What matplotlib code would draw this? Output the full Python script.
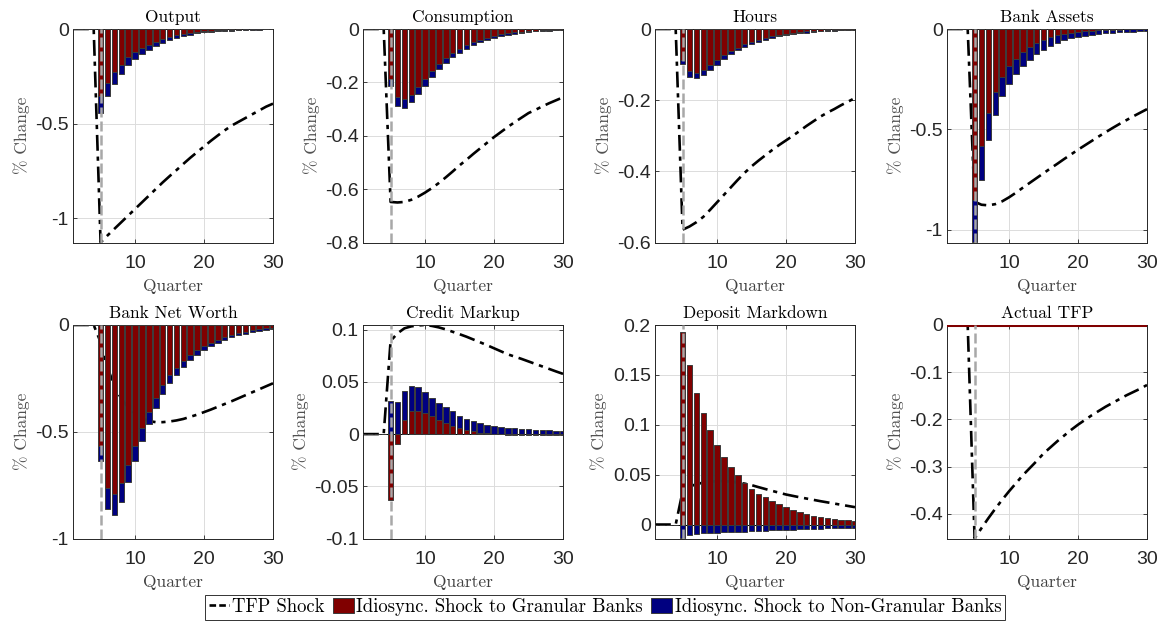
import numpy as np
import matplotlib
matplotlib.use("Agg")
import matplotlib.pyplot as plt
from matplotlib.lines import Line2D
from matplotlib.patches import Patch
from matplotlib.ticker import FormatStrFormatter

plt.rcParams["axes.unicode_minus"] = False

QUARTERS = list(range(1, 31))

TITLES = ["Output", "Consumption", "Hours", "Bank Assets",
          "Bank Net Worth", "Credit Markup", "Deposit Markdown", "Actual TFP"]

# ---- TFP shock responses (dash-dot line) ----
OUTPUT_TFP = [0, 0, 0, 0, -1.127, -1.090, -1.055, -1.020, -0.985, -0.950, -0.915, -0.880, -0.845,
              -0.810, -0.777, -0.745, -0.712, -0.680, -0.650, -0.620, -0.590, -0.562, -0.535,
              -0.510, -0.490, -0.470, -0.450, -0.430, -0.410, -0.394]
CONS_TFP = [0, 0, 0, 0, -0.648, -0.650, -0.648, -0.640, -0.628, -0.613, -0.596, -0.577, -0.556,
            -0.534, -0.511, -0.490, -0.468, -0.447, -0.426, -0.405, -0.386, -0.367, -0.349,
            -0.332, -0.315, -0.303, -0.290, -0.278, -0.267, -0.256]
HOURS_TFP = [0, 0, 0, 0, -0.564, -0.555, -0.543, -0.528, -0.508, -0.487, -0.466, -0.445, -0.424,
             -0.404, -0.386, -0.370, -0.355, -0.340, -0.326, -0.313, -0.300, -0.286, -0.272,
             -0.259, -0.246, -0.235, -0.225, -0.214, -0.204, -0.194]
ASSETS_TFP = [0, 0, 0, 0, -0.860, -0.875, -0.878, -0.872, -0.858, -0.838, -0.815, -0.790, -0.766,
              -0.742, -0.718, -0.694, -0.671, -0.647, -0.624, -0.601, -0.579, -0.557, -0.535,
              -0.514, -0.493, -0.473, -0.454, -0.435, -0.417, -0.399]
NETWORTH_TFP = [0, 0, 0, 0, -0.080, -0.200, -0.285, -0.345, -0.385, -0.415, -0.437, -0.450, -0.455,
                -0.455, -0.452, -0.447, -0.440, -0.430, -0.420, -0.408, -0.396, -0.383, -0.370,
                -0.357, -0.343, -0.329, -0.315, -0.301, -0.287, -0.273]
MARKUP_TFP = [0, 0, 0, 0, 0.0892, 0.0965, 0.1013, 0.1032, 0.1041, 0.1045, 0.1036, 0.1022, 0.1003,
              0.0980, 0.0957, 0.0933, 0.0906, 0.0879, 0.0851, 0.0822, 0.0793, 0.0764, 0.0742,
              0.0720, 0.0696, 0.0672, 0.0648, 0.0624, 0.0600, 0.0577]
MARKDOWN_TFP = [0, 0, 0, 0, 0.0330, 0.0380, 0.0405, 0.0420, 0.0430, 0.0435, 0.0435, 0.0430, 0.0420,
                0.0410, 0.0395, 0.0375, 0.0356, 0.0337, 0.0319, 0.0301, 0.0287, 0.0273, 0.0260,
                0.0247, 0.0234, 0.0222, 0.0210, 0.0198, 0.0186, 0.0174]
TFP_TFP = [0, 0, 0, 0, -0.452, -0.430, -0.409, -0.389, -0.370, -0.352, -0.335, -0.318, -0.303,
           -0.288, -0.272, -0.259, -0.246, -0.234, -0.222, -0.211, -0.201, -0.191, -0.182,
           -0.173, -0.165, -0.157, -0.149, -0.142, -0.135, -0.127]

# ---- Idiosyncratic shock to granular banks (red bars) ----
OUTPUT_GRAN = [0, 0, 0, 0, -0.355, -0.285, -0.228, -0.188, -0.148, -0.123, -0.102, -0.083, -0.069,
               -0.053, -0.042, -0.032, -0.025, -0.019, -0.014, -0.011, -0.008, -0.006, -0.005,
               -0.004, -0.003, -0.002, -0.002, -0.001, -0.001, -0.001]
CONS_GRAN = [0, 0, 0, 0, -0.188, -0.253, -0.263, -0.246, -0.218, -0.188, -0.156, -0.131, -0.109,
             -0.090, -0.075, -0.061, -0.050, -0.040, -0.033, -0.025, -0.020, -0.016, -0.013,
             -0.010, -0.008, -0.006, -0.005, -0.004, -0.003, -0.003]
HOURS_GRAN = [0, 0, 0, 0, -0.086, -0.119, -0.124, -0.115, -0.101, -0.086, -0.073, -0.061, -0.052,
              -0.043, -0.036, -0.030, -0.025, -0.020, -0.017, -0.014, -0.011, -0.009, -0.007,
              -0.006, -0.005, -0.004, -0.003, -0.003, -0.002, -0.002]
ASSETS_GRAN = [0, 0, 0, 0, -0.850, -0.581, -0.419, -0.314, -0.239, -0.186, -0.150, -0.116, -0.090,
               -0.070, -0.053, -0.040, -0.030, -0.023, -0.018, -0.014, -0.011, -0.008, -0.006,
               -0.005, -0.004, -0.003, -0.002, -0.002, -0.001, -0.001]
NETWORTH_GRAN = [0, 0, 0, 0, -0.568, -0.763, -0.791, -0.740, -0.657, -0.568, -0.483, -0.408, -0.343,
                 -0.283, -0.234, -0.202, -0.168, -0.140, -0.117, -0.098, -0.083, -0.069, -0.058,
                 -0.047, -0.039, -0.031, -0.025, -0.020, -0.016, -0.012]
MARKUP_GRAN = [0, 0, 0, 0, -0.0627, -0.0092, 0.0137, 0.0217, 0.0223, 0.0201, 0.0169, 0.0131, 0.0105,
               0.0073, 0.0057, 0.0035, 0.0025, 0.0013, 0.0006, 0.0000, -0.0003, -0.0006, -0.0008,
               -0.0010, -0.0011, -0.0012, -0.0013, -0.0013, -0.0013, -0.0013]
MARKDOWN_GRAN = [0, 0, 0, 0, 0.1933, 0.1595, 0.1321, 0.1114, 0.0943, 0.0796, 0.0679, 0.0575, 0.0492,
                 0.0418, 0.0361, 0.0311, 0.0271, 0.0234, 0.0201, 0.0174, 0.0150, 0.0127, 0.0107,
                 0.0090, 0.0077, 0.0067, 0.0057, 0.0050, 0.0043, 0.0037]
TFP_GRAN = [0, 0, 0, 0, 0, 0, 0, 0, 0, 0, 0, 0, 0, 0, 0,
            0, 0, 0, 0, 0, 0, 0, 0, 0, 0, 0, 0, 0, 0, 0]

# ---- Idiosyncratic shock to non-granular banks (blue bars) ----
OUTPUT_NONGRAN = [0, 0, 0, 0, -0.088, -0.070, -0.060, -0.047, -0.042, -0.035, -0.030, -0.026, -0.022,
                  -0.021, -0.018, -0.015, -0.014, -0.011, -0.009, -0.007, -0.006, -0.005, -0.004,
                  -0.004, -0.003, -0.003, -0.002, -0.002, -0.001, -0.001]
CONS_NONGRAN = [0, 0, 0, 0, -0.025, -0.035, -0.032, -0.029, -0.027, -0.025, -0.024, -0.019, -0.019,
                -0.016, -0.015, -0.013, -0.011, -0.010, -0.008, -0.008, -0.006, -0.005, -0.004,
                -0.004, -0.003, -0.003, -0.002, -0.002, -0.002, -0.001]
HOURS_NONGRAN = [0, 0, 0, 0, -0.012, -0.016, -0.015, -0.015, -0.014, -0.014, -0.012, -0.010, -0.008,
                 -0.008, -0.007, -0.006, -0.005, -0.005, -0.004, -0.003, -0.003, -0.003, -0.003,
                 -0.002, -0.002, -0.002, -0.002, -0.001, -0.001, -0.001]
ASSETS_NONGRAN = [0, 0, 0, 0, -0.213, -0.170, -0.136, -0.113, -0.097, -0.086, -0.073, -0.067, -0.063,
                  -0.056, -0.050, -0.046, -0.040, -0.033, -0.029, -0.026, -0.023, -0.021, -0.019,
                  -0.017, -0.015, -0.014, -0.013, -0.011, -0.011, -0.010]
NETWORTH_NONGRAN = [0, 0, 0, 0, -0.070, -0.098, -0.097, -0.089, -0.080, -0.070, -0.062, -0.055, -0.046,
                    -0.041, -0.039, -0.032, -0.028, -0.025, -0.023, -0.019, -0.015, -0.014, -0.012,
                    -0.011, -0.009, -0.009, -0.008, -0.006, -0.006, -0.005]
MARKUP_NONGRAN = [0, 0, 0, 0, 0.0318, 0.0303, 0.0277, 0.0248, 0.0226, 0.0200, 0.0181, 0.0165, 0.0150,
                  0.0144, 0.0121, 0.0111, 0.0096, 0.0092, 0.0083, 0.0076, 0.0068, 0.0061, 0.0055,
                  0.0050, 0.0046, 0.0042, 0.0039, 0.0036, 0.0034, 0.0032]
MARKDOWN_NONGRAN = [0, 0, 0, 0, -0.0140, -0.0100, -0.0090, -0.0087, -0.0084, -0.0080, -0.0078, -0.0075,
                    -0.0072, -0.0070, -0.0067, -0.0064, -0.0061, -0.0058, -0.0055, -0.0052, -0.0050,
                    -0.0047, -0.0044, -0.0042, -0.0040, -0.0037, -0.0035, -0.0033, -0.0031, -0.0030]
TFP_NONGRAN = [0, 0, 0, 0, 0, 0, 0, 0, 0, 0, 0, 0, 0, 0, 0,
               0, 0, 0, 0, 0, 0, 0, 0, 0, 0, 0, 0, 0, 0, 0]

SHOCK_QUARTER = 5

# axis ranges / ticks per panel
YLIMS = [(-1.127, 0), (-0.8, 0), (-0.6, 0), (-1.063, 0),
         (-1.0, 0), (-0.1, 0.1045), (-0.014, 0.2), (-0.452, 0)]
YTICKS = [[-1, -0.5, 0], [-0.8, -0.6, -0.4, -0.2, 0], [-0.6, -0.4, -0.2, 0], [-1, -0.5, 0],
          [-1, -0.5, 0], [-0.1, -0.05, 0, 0.05, 0.1], [0, 0.05, 0.1, 0.15, 0.2],
          [-0.4, -0.3, -0.2, -0.1, 0]]

RED = "#800000"
BLUE = "#000080"
EDGE = "#3a3a3a"
AXC = "#262626"
DASHDOT = (0, (6, 2.2, 1.6, 2.2))
SERIF = "cmr10"


def draw_panel(ax, title, tfp, gran, nongran, ylim, yticks):
    q = np.array(QUARTERS)
    g = np.array(gran, dtype=float)
    n = np.array(nongran, dtype=float)

    ax.grid(True, color="#dcdcdc", linewidth=0.7, zorder=0)
    ax.set_axisbelow(True)

    ax.plot(q, tfp, color="k", lw=1.9, ls=DASHDOT, zorder=2)

    # stacked like matlab: positives and negatives stack separately
    ax.bar(q, g, width=0.8, color=RED, edgecolor=EDGE, linewidth=0.7, zorder=3)
    n_bottom = np.where(n >= 0, np.maximum(g, 0), np.minimum(g, 0))
    ax.bar(q, n, width=0.8, bottom=n_bottom, color=BLUE, edgecolor=EDGE, linewidth=0.7, zorder=3)

    if np.all(g == 0):
        ax.plot(q, g, color=RED, lw=2.2, zorder=4)
    else:
        ax.axhline(0, color="k", lw=0.7, zorder=2.5)

    ax.axvline(SHOCK_QUARTER, color="#a8a8a8", lw=1.8, ls=(0, (4, 1.6)), zorder=5)

    ax.set_xlim(1, 30)
    ax.set_ylim(*ylim)
    ax.set_xticks([10, 20, 30])
    ax.set_yticks(yticks)
    ax.yaxis.set_major_formatter(FormatStrFormatter("%g"))
    ax.tick_params(direction="in", length=3, width=0.6, top=True, right=True,
                   colors=AXC, labelsize=14)
    ax.tick_params(axis="x", pad=9)
    ax.tick_params(axis="y", pad=3)
    for lab in ax.get_xticklabels() + ax.get_yticklabels():
        lab.set_fontfamily("Liberation Sans")
    for sp in ax.spines.values():
        sp.set_color(AXC)
        sp.set_linewidth(0.7)

    ax.set_title(title, fontfamily=SERIF, fontsize=12.5, pad=5, color="k")
    ax.set_xlabel("Quarter", fontfamily=SERIF, fontsize=12.5, color="#404040", labelpad=5)
    ax.set_ylabel("% Change", fontfamily=SERIF, fontsize=12.5, color="#505050", labelpad=4)


fig = plt.figure(figsize=(11.61, 6.22), dpi=100)

W, H = 1161.0, 622.0
col_left = [73, 363, 655, 947]
row_top = [29, 325]
ax_w, ax_h = 200, 213.5

panels = [
    (OUTPUT_TFP, OUTPUT_GRAN, OUTPUT_NONGRAN),
    (CONS_TFP, CONS_GRAN, CONS_NONGRAN),
    (HOURS_TFP, HOURS_GRAN, HOURS_NONGRAN),
    (ASSETS_TFP, ASSETS_GRAN, ASSETS_NONGRAN),
    (NETWORTH_TFP, NETWORTH_GRAN, NETWORTH_NONGRAN),
    (MARKUP_TFP, MARKUP_GRAN, MARKUP_NONGRAN),
    (MARKDOWN_TFP, MARKDOWN_GRAN, MARKDOWN_NONGRAN),
    (TFP_TFP, TFP_GRAN, TFP_NONGRAN),
]

for i, (tfp, gran, nongran) in enumerate(panels):
    r, c = divmod(i, 4)
    rect = [col_left[c] / W, 1 - (row_top[r] + ax_h) / H, ax_w / W, ax_h / H]
    ax = fig.add_axes(rect)
    draw_panel(ax, TITLES[i], tfp, gran, nongran, YLIMS[i], YTICKS[i])

handles = [
    Line2D([0], [0], color="k", lw=1.9, ls=(0, (2.5, 1.2))),
    Patch(facecolor=RED, edgecolor=EDGE, linewidth=0.7),
    Patch(facecolor=BLUE, edgecolor=EDGE, linewidth=0.7),
]
labels = ["TFP Shock", "Idiosync. Shock to Granular Banks", "Idiosync. Shock to Non-Granular Banks"]
leg = fig.legend(handles, labels, loc="center", bbox_to_anchor=(605 / W, 1 - 607 / H), ncol=3,
                 frameon=True, fancybox=False, edgecolor="k",
                 prop={"family": SERIF, "size": 13.5},
                 handlelength=1.1, handleheight=0.9, handletextpad=0.15, columnspacing=0.45,
                 borderpad=0.18, borderaxespad=0)
leg.get_frame().set_linewidth(0.7)

fig.savefig("out.png", dpi=100)
